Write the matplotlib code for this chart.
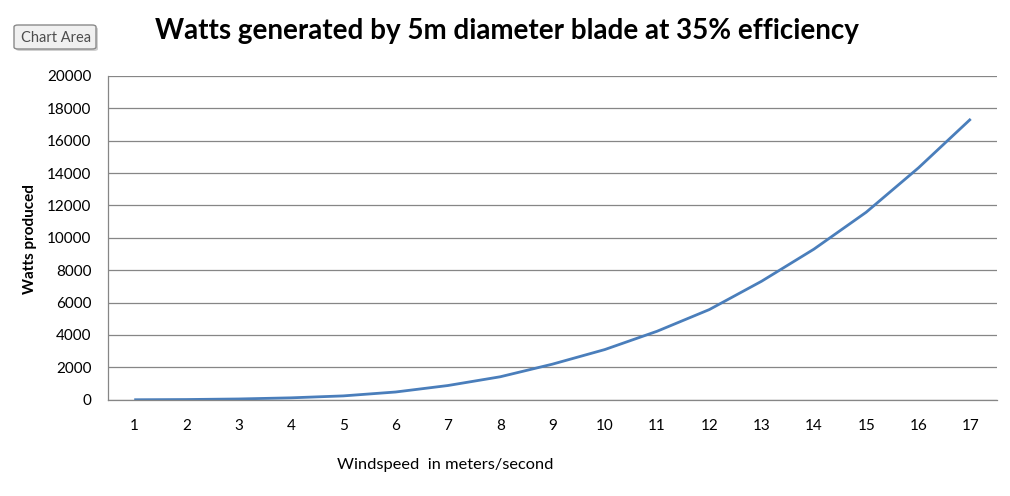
import matplotlib
matplotlib.use("Agg")
import matplotlib.pyplot as plt
from matplotlib.patches import FancyBboxPatch

windspeed = list(range(1, 18))
watts = [2, 15, 50, 120, 240, 480, 880, 1420, 2200, 3100, 4230, 5570, 7320,
         9300, 11580, 14320, 17340]
y_ticks = [0, 2000, 4000, 6000, 8000, 10000, 12000, 14000, 16000, 18000, 20000]

title = "Watts generated by 5m diameter blade at 35% efficiency"
xlabel = "Windspeed  in meters/second"
ylabel = "Watts produced"

plt.rcParams['font.family'] = ['Lato', 'DejaVu Sans']

fig = plt.figure(figsize=(10.1, 4.96), dpi=100)
ax = fig.add_axes([0.107, 0.194, 0.88, 0.653])

ax.plot(windspeed, watts, color='#4A7EBB', linewidth=2.0, solid_capstyle='butt')
ax.set_xlim(0.5, 17.5)
ax.set_ylim(0, 20000)
ax.set_yticks(y_ticks)
ax.set_yticklabels([str(v) for v in y_ticks])
ax.set_xticks(windspeed)
ax.set_xticklabels([str(v) for v in windspeed])
ax.yaxis.grid(True, color='#868686', linewidth=0.9)
ax.set_axisbelow(True)
for s in ['top', 'right']:
    ax.spines[s].set_visible(False)
for s in ['left', 'bottom']:
    ax.spines[s].set_color('#868686')
    ax.spines[s].set_linewidth(0.9)
ax.tick_params(axis='both', length=0, labelsize=11, colors='black')
ax.tick_params(axis='y', pad=12)
ax.tick_params(axis='x', pad=14)

fig.text(0.502, 0.938, title, ha='center', va='center', fontsize=20, fontweight='bold')
fig.text(0.441, 0.062, xlabel, ha='center', va='center', fontsize=11.8)
fig.text(0.030, 0.519, ylabel, ha='center', va='center', rotation=90,
         fontsize=11, fontweight='bold')

# "Chart Area" tooltip button (with a soft shadow)
shadow = FancyBboxPatch((16 / 1010, 1 - 51 / 496), 82 / 1010, 24 / 496,
                        boxstyle="round,pad=0,rounding_size=0.004",
                        transform=fig.transFigure, facecolor='#D0D0D0',
                        edgecolor='none')
fig.patches.append(shadow)
btn = FancyBboxPatch((14 / 1010, 1 - 49 / 496), 82 / 1010, 24 / 496,
                     boxstyle="round,pad=0,rounding_size=0.004",
                     transform=fig.transFigure, facecolor='#F0F0F0',
                     edgecolor='#8A8A8A', linewidth=1.0)
fig.patches.append(btn)
fig.text(56 / 1010, 1 - 37.5 / 496, "Chart Area", ha='center', va='center',
         fontsize=10.5, color='#4D4D4D')

fig.savefig("out.png", dpi=100)
